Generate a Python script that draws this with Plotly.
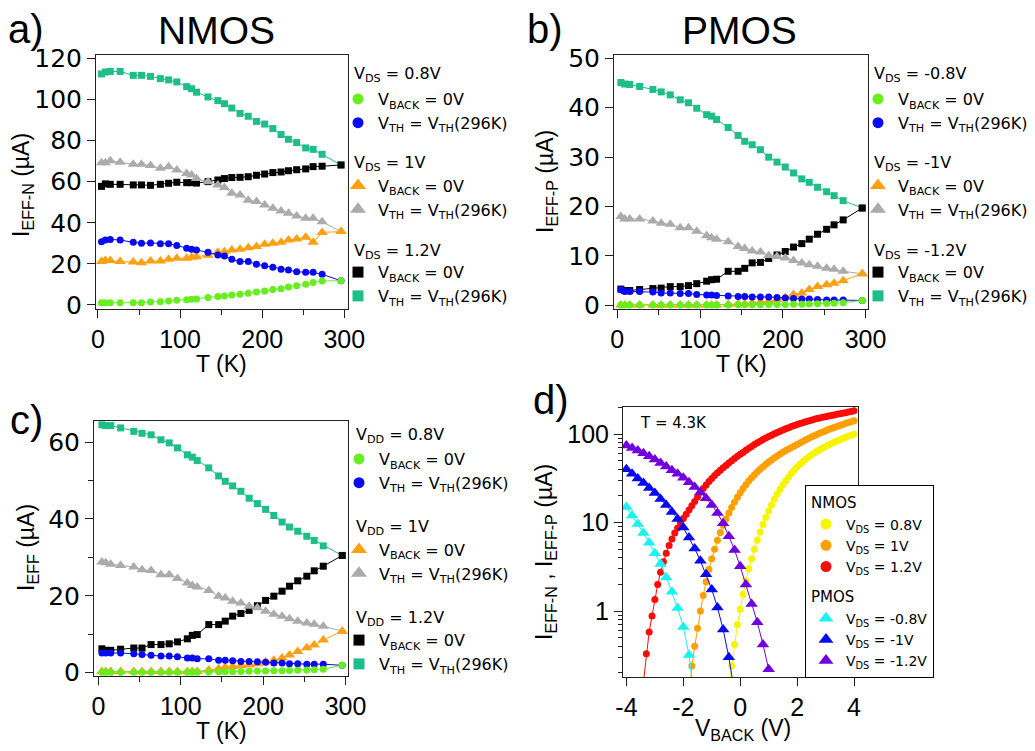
import plotly.graph_objects as go
import math

# ---------------- data ----------------
T_K = [4.3, 9, 15, 27, 43, 53, 64, 76, 86, 96, 108, 114, 120, 134, 146, 154, 163, 173,
       183, 193, 203, 213, 223, 232, 242, 253, 262, 273, 296]

# a) NMOS
nmos_08_vback0 = [1.1, 1.1, 1.1, 1.1, 1.1, 1.1, 1.5, 1.6, 1.9, 2.3, 2.6, 2.8, 2.9, 3.6, 4.1, 4.4, 4.9, 5.2,
                  5.7, 6.3, 6.8, 7.5, 7.9, 8.8, 9.4, 10.1, 11.0, 11.7, 11.8]
nmos_08_vth = [30.8, 31.6, 31.9, 31.6, 30.5, 30.0, 30.2, 29.8, 29.8, 28.9, 27.6, 27.1, 26.8, 25.6, 24.3, 23.8,
               22.2, 21.1, 21.1, 19.8, 19.1, 18.3, 17.4, 17.0, 16.2, 15.9, 15.9, 14.9, 11.8]
nmos_1_vback0 = [21.1, 21.6, 21.6, 21.1, 20.9, 20.6, 21.4, 21.4, 22.2, 22.7, 22.7, 23.2, 23.5, 24.2, 25.6, 25.9,
                 26.8, 27.1, 27.9, 28.4, 29.5, 30.0, 30.5, 31.6, 32.1, 32.9, 30.5, 35.3, 35.7]
nmos_1_vth = [69.2, 69.2, 70.2, 69.4, 68.4, 68.4, 67.8, 66.5, 67.3, 65.7, 64.0, 63.2, 61.5, 60.0, 58.4, 57.2,
              54.3, 53.5, 51.0, 50.3, 48.6, 47.0, 45.7, 44.6, 43.3, 42.2, 42.2, 40.5, 35.7]
nmos_12_vback0 = [57.7, 58.9, 58.7, 58.7, 58.4, 58.4, 58.2, 58.7, 59.2, 59.7, 59.5, 59.5, 59.3, 60.0, 60.8, 61.5,
                  62.0, 62.1, 62.4, 63.1, 63.7, 64.4, 64.7, 65.3, 65.8, 66.2, 67.3, 67.5, 68.1]
nmos_12_vth = [112.4, 113.3, 113.6, 113.6, 111.7, 111.7, 111.2, 110.1, 109.5, 108.5, 106.2, 105.2, 103.5, 101.2,
               99.4, 97.9, 95.8, 93.2, 91.8, 89.3, 88.0, 85.8, 82.9, 80.6, 79.0, 76.4, 75.7, 73.3, 68.1]

# b) PMOS
pmos_08_vback0 = [0.1, 0.1, 0.1, 0.1, 0.1, 0.1, 0.1, 0.1, 0.1, 0.1, 0.1, 0.1, 0.1, 0.1, 0.15, 0.15, 0.15, 0.15,
                  0.2, 0.2, 0.2, 0.25, 0.25, 0.3, 0.35, 0.4, 0.45, 0.55, 1.0]
pmos_08_vth = [3.2, 2.8, 2.8, 2.8, 2.7, 2.5, 2.5, 2.4, 2.4, 2.2, 2.1, 2.1, 2.0, 1.9, 1.8, 1.8, 1.7, 1.7, 1.7,
               1.6, 1.5, 1.4, 1.3, 1.3, 1.2, 1.1, 1.1, 1.1, 1.0]
pmos_1_vback0 = [0.1, 0.1, 0.1, 0.1, 0.1, 0.1, 0.1, 0.1, 0.1, 0.1, 0.1, 0.1, 0.1, 0.2, 0.3, 0.35, 0.5, 0.7,
                 0.8, 1.1, 1.6, 2.2, 2.5, 3.2, 3.8, 4.2, 4.5, 5.0, 6.4]
pmos_1_vth = [18.0, 17.5, 17.5, 17.5, 17.1, 16.6, 16.4, 15.7, 15.7, 15.0, 14.1, 13.7, 13.4, 12.9, 11.9, 11.5,
              11.0, 10.8, 10.1, 9.9, 9.6, 9.1, 8.6, 8.2, 7.9, 7.5, 7.3, 6.9, 6.4]
pmos_12_vback0 = [3.3, 3.0, 3.0, 3.2, 3.4, 3.5, 3.8, 3.8, 4.0, 4.4, 4.9, 5.2, 5.3, 6.9, 6.9, 7.5, 8.6, 8.7,
                  9.5, 10.2, 10.9, 11.8, 12.5, 13.4, 14.4, 15.4, 16.3, 17.3, 19.7]
pmos_12_vth = [45.1, 44.8, 44.7, 44.3, 43.7, 43.2, 42.6, 41.6, 41.0, 39.9, 38.6, 38.3, 37.6, 36.0, 34.4, 33.2,
               32.5, 31.5, 30.0, 29.0, 28.0, 26.8, 25.6, 24.9, 23.9, 23.0, 22.2, 21.2, 19.7]

# c) inverter
inv_08_vback0 = [0.1, 0.1, 0.1, 0.1, 0.1, 0.1, 0.1, 0.1, 0.1, 0.1, 0.1, 0.1, 0.1, 0.15, 0.2, 0.2, 0.25, 0.3,
                 0.35, 0.4, 0.45, 0.5, 0.5, 0.55, 0.6, 0.65, 0.75, 0.9, 1.9]
inv_08_vth = [5.1, 5.1, 5.1, 5.1, 4.9, 4.7, 4.5, 4.3, 4.3, 4.1, 3.8, 3.8, 3.6, 3.6, 3.2, 3.2, 3.1, 2.9, 2.9,
              2.8, 2.7, 2.5, 2.5, 2.3, 2.3, 2.2, 2.2, 2.2, 1.9]
inv_1_vback0 = [0.3, 0.3, 0.3, 0.3, 0.3, 0.3, 0.3, 0.3, 0.3, 0.3, 0.3, 0.3, 0.3, 0.7, 1.0, 1.4, 1.6, 1.8,
                2.0, 2.3, 2.8, 3.2, 3.8, 4.6, 5.5, 6.5, 7.2, 8.5, 10.8]
inv_1_vth = [28.8, 28.6, 28.2, 27.9, 27.5, 26.8, 26.6, 25.5, 25.5, 24.5, 23.3, 22.7, 22.3, 21.4, 19.9, 19.4,
             18.6, 18.1, 17.3, 16.9, 16.0, 15.2, 14.7, 14.0, 13.4, 12.9, 12.6, 12.1, 10.8]
inv_12_vback0 = [6.2, 5.8, 5.8, 6.1, 6.4, 6.4, 7.3, 7.3, 7.5, 8.0, 8.8, 9.7, 9.9, 12.5, 12.5, 13.4, 14.7, 15.4,
                 16.2, 17.4, 18.8, 19.9, 21.2, 22.5, 23.9, 25.1, 26.5, 27.7, 30.5]
inv_12_vth = [64.5, 64.3, 64.3, 63.7, 62.8, 62.3, 61.9, 60.6, 59.8, 58.5, 56.7, 56.1, 55.2, 53.3, 51.2, 49.8,
              48.6, 47.2, 45.4, 44.0, 42.5, 40.9, 39.2, 37.9, 36.8, 35.5, 34.4, 33.0, 30.5]

# d) back-gate sweep at 4.3 K
VBACK_N = [-3.4, -3.3, -3.2, -3.1, -3.0, -2.9, -2.8, -2.7, -2.6, -2.5, -2.4, -2.3, -2.2, -2.1, -2.0,
           -1.9, -1.8, -1.7, -1.6, -1.5, -1.4, -1.3, -1.2, -1.1, -1.0, -0.9, -0.8, -0.7, -0.6, -0.5,
           -0.4, -0.3, -0.2, -0.1, 0.0, 0.1, 0.2, 0.3, 0.4, 0.5, 0.6, 0.7, 0.8, 0.9, 1.0,
           1.1, 1.2, 1.3, 1.4, 1.5, 1.6, 1.7, 1.8, 1.9, 2.0, 2.1, 2.2, 2.3, 2.4, 2.5,
           2.6, 2.7, 2.8, 2.9, 3.0, 3.1, 3.2, 3.3, 3.4, 3.5, 3.6, 3.7, 3.8, 3.9, 4.0]
VBACK_P = [-4.0, -3.8, -3.6, -3.4, -3.2, -3.0, -2.8, -2.6, -2.4, -2.2, -2.0, -1.8, -1.6,
           -1.4, -1.2, -1.0, -0.8, -0.6, -0.4, -0.2, 0.0, 0.2, 0.4, 0.6, 0.8, 1.0]

nd_08 = [0.13, 0.24, 0.42, 0.7, 1.05, 1.55, 2.2, 3.0, 3.9, 5.0, 6.3, 7.8, 9.5, 11.4, 13.5,
         15.8, 18.3, 21.0, 23.8, 26.7, 29.7, 32.8, 36.0, 39.2, 42.5, 45.7, 48.9, 52.0, 55.0, 58.0,
         61.0, 63.9, 66.8, 69.6, 72.4, 75.2, 78.0, 80.7, 83.4, 86.1, 88.8, 91.5, 94.2, 97.0, 100.0]
nd_1 = [0.11, 0.24, 0.4, 0.64, 1.0, 1.5, 2.15, 2.95, 3.9, 5.0, 6.3, 7.7, 9.3, 11.0, 12.8, 14.8, 17.0,
        19.3, 21.7, 24.2, 26.8, 29.4, 32.0, 34.7, 37.4, 40.1, 42.8, 45.5, 48.2, 51.0, 53.8, 56.6, 59.4,
        62.2, 65.0, 67.8, 70.6, 73.4, 76.2, 79.3, 82.6, 85.9, 89.2, 92.5, 95.8, 99.1, 102.4, 105.7,
        109.0, 112.2, 115.4, 118.6, 121.8, 125.0, 128.2, 131.4, 134.6, 137.8, 141.0]
nd_12 = [0.16, 0.33, 0.58, 0.88, 1.35, 2.0, 2.75, 3.6, 4.5, 5.5, 6.5, 7.6, 8.7, 9.9, 11.1, 12.4, 13.9,
         15.5, 17.3, 19.5, 22.0, 24.3, 26.6, 29.0, 31.5, 34.0, 36.5, 39.0, 41.5, 44.0, 47.0, 50.0,
         53.0, 56.0, 59.0, 62.0, 65.5, 69.0, 72.5, 76.0, 79.5, 83.0, 86.5, 90.0, 93.5, 97.0, 100.5,
         104.0, 107.5, 111.0, 114.5, 118.0, 121.5, 125.0, 128.5, 131.5, 134.5, 137.5, 140.5, 143.5,
         146.5, 149.5, 152.0, 154.5, 157.0, 159.5, 162.0, 164.5, 167.0, 169.5, 172.0, 174.5, 177.0,
         180.0, 183.0]
pd_08 = [15.0, 12.0, 9.6, 7.6, 5.9, 4.5, 3.4, 2.4, 1.65, 1.08, 0.66, 0.32, 0.1]
pd_1 = [40.0, 35.5, 31.5, 28.0, 24.5, 21.5, 18.5, 15.8, 13.2, 11.0, 8.8, 6.8, 5.1, 3.7, 2.6, 1.75,
        1.1, 0.62, 0.3, 0.12]
pd_12 = [74.0, 69.5, 65.0, 60.5, 56.0, 51.5, 47.0, 43.0, 39.0, 35.5, 32.0, 28.5, 25.2, 22.0, 18.8,
         15.8, 12.8, 9.8, 7.0, 4.9, 3.2, 2.0, 1.2, 0.75, 0.42, 0.22]

# ---------------- styling ----------------
OFF = 8                      # page body margin in the browser
W, H = 1035 - OFF, 751 - OFF
FX = lambda p: (p - OFF) / W
FY = lambda p: 1 - (p - OFF) / H
LFONT = "DejaVu Sans"
TFONT = "Liberation Sans"

C_LGREEN = "#66EE1E"
C_BLUE = "#0A0AF0"
C_ORANGE = "#FFA010"
C_GRAY = "#ABABAB"
C_BLACK = "#000000"
C_TEAL = "#1DBE88"
C_YEL = "#F5F500"
C_DORANGE = "#FFA000"
C_RED = "#FF0A0A"
C_CYAN = "#1AF2F2"
C_DBLUE = "#0A0AF0"
C_PURPLE = "#7000DD"

SYM = {"circle": 7, "square": 7, "triangle-up": 10}

fig = go.Figure()


def series(x, y, color, symbol, xa, ya, size=None):
    fig.add_trace(go.Scatter(
        x=x, y=y, mode="lines+markers", xaxis=xa, yaxis=ya,
        line=dict(color=color, width=1),
        marker=dict(color=color, symbol=symbol, size=size or SYM[symbol], line=dict(width=0)),
        showlegend=False, hoverinfo="skip"))


def legend_item(name, color, symbol, legend, group, xa, ya, size, gtitle=None):
    kw = {}
    if gtitle is not None:
        kw["legendgrouptitle"] = dict(text=gtitle, font=dict(family=LFONT, size=15, color="black"))
    fig.add_trace(go.Scatter(
        x=[None], y=[None], mode="markers", xaxis=xa, yaxis=ya,
        marker=dict(color=color, symbol=symbol, size=size, line=dict(width=0)),
        name=name, legend=legend, legendgroup=group, showlegend=True, **kw))


VB0 = "V<sub>BACK</sub> = 0V"
VTH = "V<sub>TH</sub> = V<sub>TH</sub>(296K)"

# panels a, b, c
panels = [
    ("x", "y", "legend", [nmos_08_vback0, nmos_08_vth, nmos_1_vback0, nmos_1_vth, nmos_12_vback0, nmos_12_vth]),
    ("x2", "y2", "legend2", [pmos_08_vback0, pmos_08_vth, pmos_1_vback0, pmos_1_vth, pmos_12_vback0, pmos_12_vth]),
    ("x3", "y3", "legend3", [inv_08_vback0, inv_08_vth, inv_1_vback0, inv_1_vth, inv_12_vback0, inv_12_vth]),
]
styles = [(C_LGREEN, "circle"), (C_BLUE, "circle"), (C_ORANGE, "triangle-up"),
          (C_GRAY, "triangle-up"), (C_BLACK, "square"), (C_TEAL, "square")]
draw_order = [5, 4, 3, 2, 1, 0]
for xa, ya, lg, data in panels:
    for i in draw_order:
        series(T_K, data[i], styles[i][0], styles[i][1], xa, ya)
    for i, (c, s) in enumerate(styles):
        legend_item(VB0 if i % 2 == 0 else VTH, c, s, lg, f"{lg}_{i // 2}", xa, ya,
                    14 if s == "triangle-up" else 11)

# panel d
series(VBACK_N[-len(nd_08):], nd_08, C_YEL, "circle", "x4", "y4", 7)
series(VBACK_N[-len(nd_1):], nd_1, C_DORANGE, "circle", "x4", "y4", 7)
series(VBACK_N[-len(nd_12):], nd_12, C_RED, "circle", "x4", "y4", 7)
series(VBACK_P[:len(pd_08)], pd_08, C_CYAN, "triangle-up", "x4", "y4", 11)
series(VBACK_P[:len(pd_1)], pd_1, C_DBLUE, "triangle-up", "x4", "y4", 11)
series(VBACK_P[:len(pd_12)], pd_12, C_PURPLE, "triangle-up", "x4", "y4", 11)

d_items = [("V<sub>DS</sub> = 0.8V", C_YEL, "circle", "N"), ("V<sub>DS</sub> = 1V", C_DORANGE, "circle", "N"),
           ("V<sub>DS</sub> = 1.2V", C_RED, "circle", "N"), ("V<sub>DS</sub> = -0.8V", C_CYAN, "triangle-up", "P"),
           ("V<sub>DS</sub> = -1V", C_DBLUE, "triangle-up", "P"), ("V<sub>DS</sub> = -1.2V", C_PURPLE, "triangle-up", "P")]
for k, (nm, c, s, g) in enumerate(d_items):
    legend_item(nm, c, s, "legend4", g, "x4", "y4", 13 if s == "triangle-up" else 11,
                gtitle=("NMOS" if g == "N" else "PMOS") if k % 3 == 0 else None)


# ---------------- axes ----------------
def axis(dom, rng, anchor, font=TFONT, size=25, **kw):
    d = dict(domain=dom, range=rng, anchor=anchor, showline=True, linecolor="#222222", linewidth=1,
             mirror=True, ticks="outside", ticklen=8, tickwidth=1, tickcolor="#222222",
             showgrid=False, zeroline=False, automargin=False,
             tickfont=dict(family=font, size=size, color="black"))
    d.update(kw)
    return d


tminor = dict(tickvals=[50, 150, 250], ticks="outside", ticklen=5, tickcolor="#222222", showgrid=False)
tvals = dict(tickmode="array", tickvals=[0, 100, 200, 300])

log_minor = [0.2, 0.3, 0.4, 0.5, 0.6, 0.7, 0.8, 0.9, 2, 3, 4, 5, 6, 7, 8, 9,
             20, 30, 40, 50, 60, 70, 80, 90, 200]

layout = dict(
    width=W, height=H, margin=dict(l=0, r=0, t=0, b=0, autoexpand=False),
    paper_bgcolor="white", plot_bgcolor="white", showlegend=True,
    xaxis=axis([FX(96), FX(348)], [-2.4, 304.5], "y", minor=tminor, **tvals),
    yaxis=axis([FY(309), FY(55)], [-1.95, 121.6], "x", font=LFONT, size=25,
               tickmode="array", tickvals=[0, 20, 40, 60, 80, 100, 120]),
    xaxis2=axis([FX(614), FX(868)], [-4, 303], "y2", minor=tminor, **tvals),
    yaxis2=axis([FY(309), FY(55)], [-0.73, 50.67], "x2", font=LFONT, size=25,
                tickmode="array", tickvals=[0, 10, 20, 30, 40, 50]),
    xaxis3=axis([FX(94), FX(348)], [-5.3, 303], "y3", minor=tminor, **tvals),
    yaxis3=axis([FY(676), FY(421)], [-0.88, 65.5], "x3", font=LFONT, size=25,
                tickmode="array", tickvals=[0, 20, 40, 60],
                minor=dict(tickvals=[10, 30, 50], ticks="outside", ticklen=5, tickcolor="#222222", showgrid=False)),
    xaxis4=axis([FX(623), FX(858)], [-4.12, 4.14], "y4", tickmode="array", tickvals=[-4, -2, 0, 2, 4],
                ticktext=["-4", "-2", "0", "2", "4"]),
    yaxis4=axis([FY(677), FY(407)], [math.log10(0.18), math.log10(202)], "x4", type="log",
                tickmode="array", tickvals=[1, 10, 100], ticktext=["1", "10", "100"],
                minor=dict(tickvals=log_minor, ticks="outside", ticklen=4, tickcolor="#222222", showgrid=False)),
)

leg_common = dict(xanchor="left", yanchor="top", bgcolor="rgba(0,0,0,0)", borderwidth=0,
                  font=dict(family=LFONT, size=16, color="black"), traceorder="grouped",
                  itemsizing="trace", itemwidth=30, itemclick=False, itemdoubleclick=False)
layout["legend"] = dict(x=FX(338), y=FY(82), tracegroupgap=39, **leg_common)
layout["legend2"] = dict(x=FX(858), y=FY(82), tracegroupgap=39, **leg_common)
layout["legend3"] = dict(x=FX(339), y=FY(442), tracegroupgap=43, **leg_common)
leg4 = dict(leg_common)
leg4.update(bgcolor="white", bordercolor="black", borderwidth=1,
            font=dict(family=LFONT, size=14, color="black"))
layout["legend4"] = dict(x=FX(805), y=FY(485), tracegroupgap=8, **leg4)

fig.update_layout(**layout)


# ---------------- annotations ----------------
def ann(text, x, y, size, family=TFONT, xanchor="left", angle=0):
    fig.add_annotation(text=text, x=FX(x), y=FY(y), xref="paper", yref="paper", showarrow=False,
                       xanchor=xanchor, yanchor="middle", textangle=angle,
                       font=dict(family=family, size=size, color="black"))


ann("a)", 6, 29, 40)
ann("NMOS", 216, 30, 39, xanchor="center")
ann("b)", 525, 29, 40)
ann("PMOS", 739, 30, 39, xanchor="center")
ann("c)", 8, 420, 40)
ann("d)", 531, 400, 40)
ann("T = 4.3K", 638, 423, 15, family=LFONT)

ann("T (K)", 221, 364, 23, xanchor="center")
ann("T (K)", 741, 364, 23, xanchor="center")
ann("T (K)", 221, 731, 23, xanchor="center")
ann("V<sub>BACK</sub> (V)", 743, 729, 23, xanchor="center")
ann("I<sub>EFF-N</sub> (µA)", 22, 185, 23, xanchor="center", angle=-90)
ann("I<sub>EFF-P</sub> (µA)", 546, 182, 23, xanchor="center", angle=-90)
ann("I<sub>EFF</sub> (µA)", 27, 548, 23, xanchor="center", angle=-90)
ann("I<sub>EFF-N</sub> , I<sub>EFF-P</sub> (µA)", 545, 552, 23, xanchor="center", angle=-90)

headers = [
    (352, ["V<sub>DS</sub> = 0.8V", "V<sub>DS</sub> = 1V", "V<sub>DS</sub> = 1.2V"], [75, 164, 251]),
    (872, ["V<sub>DS</sub> = -0.8V", "V<sub>DS</sub> = -1V", "V<sub>DS</sub> = -1.2V"], [75, 164, 251]),
    (354, ["V<sub>DD</sub> = 0.8V", "V<sub>DD</sub> = 1V", "V<sub>DD</sub> = 1.2V"], [435, 527, 618]),
]
for x0, texts, ys in headers:
    for t, yy in zip(texts, ys):
        ann(t, x0, yy, 16, family=LFONT)

fig.write_html("out.html")
